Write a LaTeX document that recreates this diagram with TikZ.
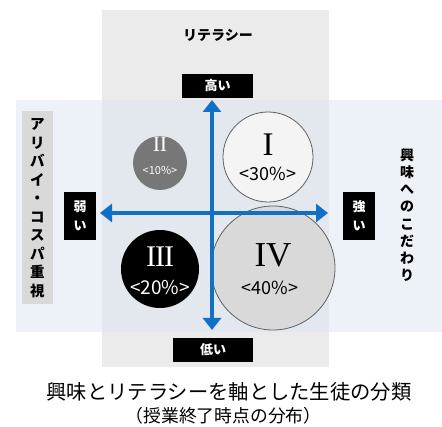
\documentclass[tikz,border=0pt]{standalone}
\usepackage{fontspec}
\setmainfont{Noto Sans CJK JP}
\newfontfamily\numfont{Liberation Serif}
\usetikzlibrary{arrows.meta}
\definecolor{vpanel}{HTML}{EBEBEB}
\definecolor{hpanel}{HTML}{DCE7F3}
\definecolor{sidebox}{HTML}{D9D9D9}
\definecolor{axisblue}{HTML}{1170C6}
\definecolor{circII}{HTML}{777777}
\definecolor{circI}{HTML}{F4F4F4}
\definecolor{circIV}{HTML}{D9D9D9}
\definecolor{rim}{HTML}{606060}
\tikzset{
  blackbox/.style={fill=black, text=white, font=\bfseries\fontsize{13}{18}\selectfont, inner sep=0pt, align=center},
  vtext/.style={align=center, inner sep=0pt, font=\bfseries\fontsize{14.5}{18.5}\selectfont},
  axis/.style={draw=axisblue, line width=4pt, {Triangle[width=18pt,length=12pt]}-{Triangle[width=18pt,length=12pt]}},
  numeral/.style={font=\numfont\fontsize{#1}{#1}\selectfont, inner sep=0pt},
  pct/.style={font=\fontsize{#1}{#1}\selectfont, inner sep=0pt}
}
\begin{document}
\begin{tikzpicture}[x=1pt,y=-1pt]
\useasboundingbox (0,0) rectangle (442,427);
\fill[white] (0,0) rectangle (442,427);
% panels
\fill[vpanel] (102,10) rectangle (329,367);
\fill[hpanel, opacity=0.5] (16,100) rectangle (442,332);
\fill[sidebox] (22,111) rectangle (53,304);
% labels
\node[font=\bfseries\fontsize{14}{16}\selectfont, inner sep=0pt] (lit) at (218,35) {リテラシー};
\node[blackbox, minimum width=71pt, minimum height=24pt] (high) at (217.5,86) {高い};
\node[blackbox, minimum width=80pt, minimum height=24pt] (low) at (213,350) {低い};
\node[blackbox, minimum width=32pt, minimum height=48pt, font=\bfseries\fontsize{13}{19}\selectfont] (weak) at (80,216) {弱\\い};
\node[blackbox, minimum width=32pt, minimum height=48pt, font=\bfseries\fontsize{13}{19}\selectfont] (strong) at (359,216) {強\\い};
\node[vtext] (leftlab) at (37.5,208) {ア\\リ\\バ\\イ\\・\\コ\\ス\\パ\\重\\視};
\node[vtext, font=\bfseries\fontsize{14}{17.2}\selectfont] (rightlab) at (407,215) {興\\味\\へ\\の\\こ\\だ\\わ\\り};
% circles
\node[circle, fill=circII, minimum size=54pt, inner sep=0pt] (c2) at (160,163) {};
\node[numeral=22, text=white] (n2) at (160,144) {I\kern-0.5ptI};
\node[pct=11, text=white] (p2) at (160,170) {<10\%>};
\node[circle, fill=circI, draw=rim, line width=0.8pt, minimum size=90pt, inner sep=0pt] (c1) at (268,157) {};
\node[numeral=33, text=black] (n1) at (268,145) {I};
\node[pct=18, text=black] (p1) at (268,174) {<30\%>};
\node[circle, fill=black, minimum size=78pt, inner sep=0pt] (c3) at (160,269) {};
\node[numeral=30, text=white] (n3) at (160,257) {I\kern-1ptI\kern-1ptI};
\node[pct=19, text=white] (p3) at (160,288) {<20\%>};
\node[circle, fill=circIV, draw=rim, line width=0.8pt, minimum size=124pt, inner sep=0pt] (c4) at (273,268) {};
\node[numeral=35, text=black] (n4) at (273,255) {IV};
\node[pct=18, text=black] (p4) at (270,288) {<40\%>};
% axes
\coordinate (axL) at (100,213);
\coordinate (axR) at (328,213);
\coordinate (axT) at (212,100);
\coordinate (axB) at (212,330);
\draw[axis] (axL) -- (axR);
\draw[axis] (axT) -- (axB);
% titles
\node[font=\fontsize{20.3}{23}\selectfont, inner sep=0pt] (title) at (229,392) {興味とリテラシーを軸とした生徒の分類};
\node[font=\fontsize{17.8}{20}\selectfont, inner sep=0pt] (subtitle) at (223.5,416) {（授業終了時点の分布）};
\end{tikzpicture}
\end{document}
